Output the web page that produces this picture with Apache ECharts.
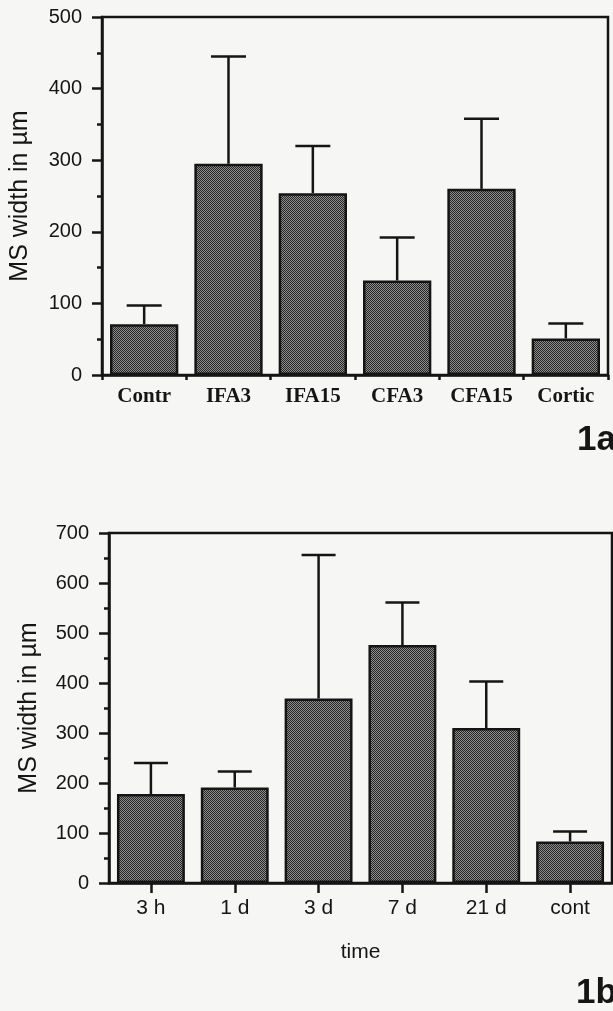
<!DOCTYPE html>
<html>
<head>
<meta charset="utf-8">
<script src="https://cdn.jsdelivr.net/npm/echarts@6/dist/echarts.min.js"></script>
<style>
html,body{margin:0;padding:0;background:#f6f6f4;}
#c{width:613px;height:1011px;}
</style>
</head>
<body>
<div id="c"></div>
<script>
// ---- Data ----
const catsA = ['Contr', 'IFA3', 'IFA15', 'CFA3', 'CFA15', 'Cortic'];
const meanA = [71, 295, 254, 132, 260, 51];
const errTopA = [97, 445, 320, 192, 358, 72];

const catsB = ['3 h', '1 d', '3 d', '7 d', '21 d', 'cont'];
const meanB = [178, 191, 369, 476, 310, 83];
const errTopB = [240, 223, 656, 561, 403, 103];

const yTicksA = [0, 100, 200, 300, 400, 500];
const yTicksB = [0, 100, 200, 300, 400, 500, 600, 700];

const yName = 'MS width in µm';
const xNameB = 'time';

// ---- Styling ----
const ink = '#151515';
const pat = document.createElement('canvas');
pat.width = 2; pat.height = 2;
const pc = pat.getContext('2d');
pc.fillStyle = '#8e8e8e'; pc.fillRect(0, 0, 2, 2);
pc.fillStyle = '#262626'; pc.fillRect(0, 0, 1, 1); pc.fillRect(1, 1, 1, 1);
const barFill = { image: pat, repeat: 'repeat' };

function errRender(capHalf) {
  return function (params, api) {
    const base = api.coord([api.value(0), api.value(1)]);
    const top = api.coord([api.value(0), api.value(2)]);
    const st = { stroke: ink, lineWidth: 2.5 };
    return {
      type: 'group',
      children: [
        { type: 'line', shape: { x1: base[0], y1: base[1], x2: top[0], y2: top[1] }, style: st },
        { type: 'line', shape: { x1: top[0] - capHalf, y1: top[1], x2: top[0] + capHalf, y2: top[1] }, style: st }
      ]
    };
  };
}

function yAxisCfg(gi, maxV, nameGap) {
  return {
    type: 'value', gridIndex: gi, min: 0, max: maxV, interval: 100,
    name: yName, nameLocation: 'middle', nameGap: nameGap, nameRotate: 90,
    nameTextStyle: { fontFamily: 'Liberation Sans', fontSize: 25, color: ink },
    axisLine: { show: true, lineStyle: { color: ink, width: 2.5 } },
    axisTick: { show: true, length: 10, lineStyle: { color: ink, width: 2.5 } },
    minorTick: { show: true, splitNumber: 2, length: 5, lineStyle: { color: ink, width: 2.5 } },
    splitLine: { show: false },
    axisLabel: { fontFamily: 'Liberation Sans', fontSize: 20, color: ink, margin: 20 }
  };
}

const chart = echarts.init(document.getElementById('c'), null, { renderer: 'canvas' });
chart.setOption({
  backgroundColor: '#f6f6f4',
  animation: false,
  grid: [
    { left: 102, top: 17, width: 506, height: 358, show: true, borderColor: ink, borderWidth: 2.5, backgroundColor: 'transparent' },
    { left: 109, top: 533, width: 503, height: 350, show: true, borderColor: ink, borderWidth: 2.5, backgroundColor: 'transparent' }
  ],
  xAxis: [
    {
      type: 'category', gridIndex: 0, data: catsA,
      axisLine: { lineStyle: { color: ink, width: 2.5 } },
      axisTick: { show: true, length: 5, alignWithLabel: false, lineStyle: { color: ink, width: 2.5 } },
      axisLabel: { fontFamily: 'Liberation Serif', fontWeight: 'bold', fontSize: 21, color: ink, margin: 11, interval: 0 }
    },
    {
      type: 'category', gridIndex: 1, data: catsB,
      name: xNameB, nameLocation: 'middle', nameGap: 59,
      nameTextStyle: { fontFamily: 'Liberation Sans', fontSize: 21, color: ink },
      axisLine: { lineStyle: { color: ink, width: 2.5 } },
      axisTick: { show: true, length: 10, alignWithLabel: true, lineStyle: { color: ink, width: 2.5 } },
      axisLabel: { fontFamily: 'Liberation Sans', fontSize: 21, color: ink, margin: 15, interval: 0 }
    }
  ],
  yAxis: [yAxisCfg(0, yTicksA[yTicksA.length - 1], 69), yAxisCfg(1, yTicksB[yTicksB.length - 1], 67)],
  series: [
    {
      type: 'custom', xAxisIndex: 0, yAxisIndex: 0, z: 1,
      renderItem: errRender(17.5),
      data: catsA.map((c, i) => [i, meanA[i], errTopA[i]])
    },
    {
      type: 'bar', xAxisIndex: 0, yAxisIndex: 0, z: 2, data: meanA, barCategoryGap: '19%',
      itemStyle: { color: barFill, borderColor: ink, borderWidth: 2.5 }
    },
    {
      type: 'custom', xAxisIndex: 1, yAxisIndex: 1, z: 1,
      renderItem: errRender(17),
      data: catsB.map((c, i) => [i, meanB[i], errTopB[i]])
    },
    {
      type: 'bar', xAxisIndex: 1, yAxisIndex: 1, z: 2, data: meanB, barCategoryGap: '19%',
      itemStyle: { color: barFill, borderColor: ink, borderWidth: 2.5 }
    }
  ],
  graphic: [
    { type: 'text', left: 577, top: 423, style: { text: '1a', font: 'bold 35px "Liberation Sans"', fill: ink } },
    { type: 'text', left: 576, top: 976, style: { text: '1b', font: 'bold 35px "Liberation Sans"', fill: ink } }
  ]
});
</script>
</body>
</html>
